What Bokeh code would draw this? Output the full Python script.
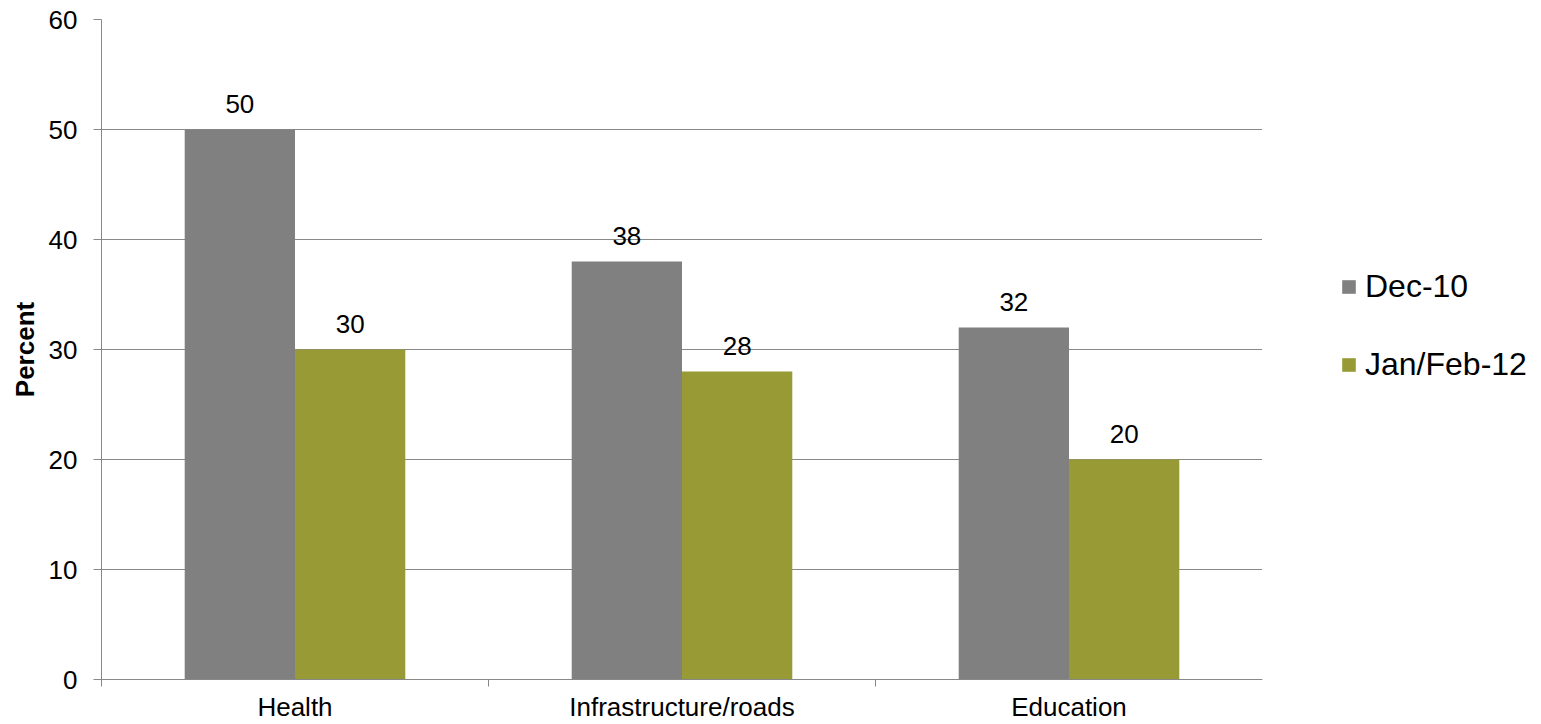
from bokeh.plotting import figure
from bokeh.layouts import row
from bokeh.models import ColumnDataSource, FixedTicker, Legend, LegendItem, Range1d
from bokeh.transform import dodge
from bokeh.core.properties import value
from bokeh.embed import file_html
from bokeh.resources import INLINE

categories = ["Health", "Infrastructure/roads", "Education"]
dec10 = [50, 38, 32]
janfeb12 = [30, 28, 20]
series_names = ["Dec-10", "Jan/Feb-12"]
y_ticks = [0, 10, 20, 30, 40, 50, 60]

FONT = "Liberation Sans"
GREY = "#808080"
OLIVE = "#989A36"
AXIS = "#888888"

centers = [i + 0.5 for i in range(len(categories))]
src = ColumnDataSource(dict(
    x=centers,
    dec=dec10,
    jan=janfeb12,
    dec_lbl=[str(v) for v in dec10],
    jan_lbl=[str(v) for v in janfeb12],
))

p = figure(width=1262, height=724, output_backend="svg", toolbar_location=None,
           x_range=Range1d(0, len(categories)), y_range=Range1d(0, 60),
           min_border_left=101, min_border_right=0, min_border_top=19,
           min_border_bottom=44)
p.outline_line_color = None
p.background_fill_color = "white"

bw = 0.285
r1 = p.vbar(x=dodge("x", -bw / 2, range=p.x_range), top="dec", width=bw,
            source=src, fill_color=GREY, line_color=None)
r2 = p.vbar(x=dodge("x", bw / 2, range=p.x_range), top="jan", width=bw,
            source=src, fill_color=OLIVE, line_color=None)

p.text(x=dodge("x", -bw / 2, range=p.x_range), y="dec", text="dec_lbl", source=src,
       text_align="center", text_baseline="middle", y_offset=-26,
       text_font=value(FONT), text_font_size="26px", text_color="black")
p.text(x=dodge("x", bw / 2, range=p.x_range), y="jan", text="jan_lbl", source=src,
       text_align="center", text_baseline="middle", y_offset=-26,
       text_font=value(FONT), text_font_size="26px", text_color="black")

# x axis
xa = p.xaxis[0]
xa.ticker = FixedTicker(ticks=centers, minor_ticks=list(range(len(categories) + 1)))
xa.major_label_overrides = {c: name for c, name in zip(centers, categories)}
xa.major_tick_out = 0
xa.major_tick_in = 0
xa.minor_tick_out = 7
xa.minor_tick_in = 0
xa.minor_tick_line_color = AXIS
xa.axis_line_color = AXIS
xa.major_label_standoff = 5
xa.major_label_text_font = FONT
xa.major_label_text_font_size = "26px"
xa.major_label_text_color = "black"

# y axis
ya = p.yaxis[0]
ya.ticker = FixedTicker(ticks=y_ticks, minor_ticks=[])
ya.major_tick_out = 8
ya.major_tick_in = 0
ya.major_tick_line_color = AXIS
ya.axis_line_color = AXIS
ya.major_label_standoff = 16
ya.major_label_text_font = FONT
ya.major_label_text_font_size = "26px"
ya.major_label_text_color = "black"
ya.axis_label = "Percent"
ya.axis_label_text_font = FONT
ya.axis_label_text_font_size = "26px"
ya.axis_label_text_font_style = "bold"
ya.axis_label_text_color = "black"
ya.axis_label_standoff = 6

p.xgrid.grid_line_color = None
p.ygrid.ticker = FixedTicker(ticks=y_ticks)
p.ygrid.grid_line_color = AXIS
p.ygrid.grid_line_width = 1

# legend panel (separate figure to the right of the plot area)
lg = figure(width=279, height=724, output_backend="svg", toolbar_location=None,
            x_range=Range1d(100, 101), y_range=Range1d(1000, 1001),
            x_axis_location=None, y_axis_location=None,
            min_border_left=0, min_border_right=0, min_border_top=0,
            min_border_bottom=0)
lg.outline_line_color = None
lg.xgrid.visible = False
lg.ygrid.visible = False
d1 = lg.vbar(x="x", top="dec", width=bw, source=src, fill_color=GREY, line_color=None)
d2 = lg.vbar(x="x", top="jan", width=bw, source=src, fill_color=OLIVE, line_color=None)

legend = Legend(items=[LegendItem(label=series_names[0], renderers=[d1]),
                       LegendItem(label=series_names[1], renderers=[d2])],
                location=(78, 296), orientation="vertical",
                border_line_color=None, background_fill_alpha=0,
                padding=0, margin=0, spacing=41,
                glyph_width=17, glyph_height=17, label_standoff=8,
                label_height=36,
                label_text_font=FONT, label_text_font_size="32px",
                label_text_color="black", label_text_baseline="middle")
lg.add_layout(legend, "center")

layout = row(p, lg)
open("out.html", "w").write(file_html(layout, INLINE))
